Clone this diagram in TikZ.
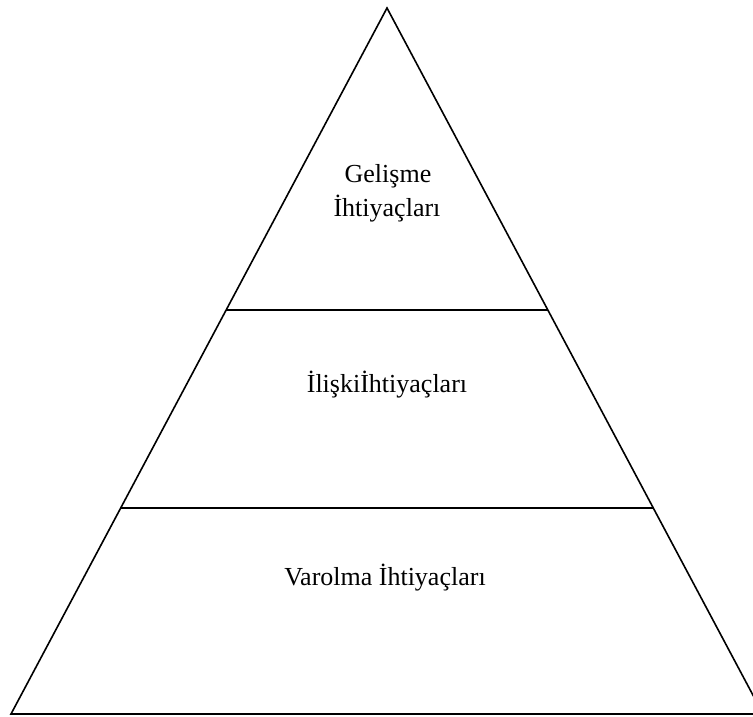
\documentclass[tikz,border=0pt]{standalone}
\usepackage{fontspec}
\setmainfont{Liberation Serif}
\usetikzlibrary{calc}
\begin{document}
\begin{tikzpicture}[x=1pt,y=1pt,
  edge/.style={line width=1.6pt, line join=miter},
  band/.style={line width=1.5pt},
  lbl/.style={anchor=base, inner sep=0pt, font=\fontsize{26}{34}\selectfont}]
\useasboundingbox (0,0) rectangle (753,716);
\coordinate (apex) at (387,708);
\coordinate (bl) at (11,2);
\coordinate (br) at (763,2);
\begin{scope}
\clip (0,0) rectangle (753,716);
\draw[edge] (apex) -- (bl) -- (br) -- cycle;
\end{scope}
\coordinate (l1a) at ($(apex)!0.4278!(bl)$);
\coordinate (l1b) at ($(apex)!0.4278!(br)$);
\coordinate (l2a) at ($(apex)!0.708!(bl)$);
\coordinate (l2b) at ($(apex)!0.708!(br)$);
\draw[band] (l1a) -- (l1b);
\draw[band] (l2a) -- (l2b);
\node[lbl] (g1) at (388,533) {Gelişme};
\node[lbl] (g2) at (387,499) {İhtiyaçları};
\node[lbl] (il) at (387,323) {İlişkiİhtiyaçları};
\node[lbl] (va) at (385,131) {Varolma İhtiyaçları};
\end{tikzpicture}
\end{document}
